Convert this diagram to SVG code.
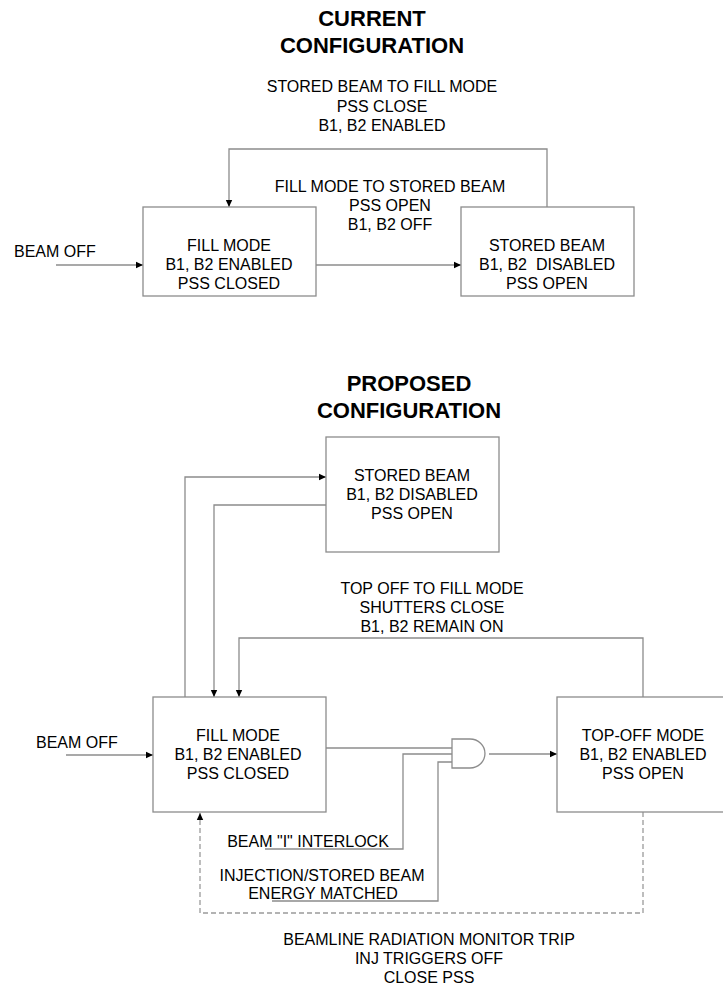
<svg xmlns="http://www.w3.org/2000/svg" width="723" height="985" viewBox="0 0 723 985">
<style>
  text { font-family: "Liberation Sans", Arial, sans-serif; fill: #000; }
  .t { font-size: 16px; text-anchor: middle; }
  .l { font-size: 16px; }
  .h { font-size: 22px; font-weight: bold; text-anchor: middle; }
  .box { fill: #fff; stroke: #8c8c8c; stroke-width: 1.3; }
  .w { fill: none; stroke: #8c8c8c; stroke-width: 1.3; }
  .d { fill: none; stroke: #9a9a9a; stroke-width: 1.3; stroke-dasharray: 5 3; }
</style>
<defs>
  <marker id="ah" markerWidth="8" markerHeight="8" refX="7" refY="4" orient="auto" markerUnits="userSpaceOnUse">
    <path d="M0,0.8 L7,4 L0,7.2 Z" fill="#000"/>
  </marker>
</defs>
<rect width="723" height="985" fill="#fff"/>

<g id="title-current">
  <text class="h" x="372" y="26">CURRENT</text>
  <text class="h" x="372" y="53">CONFIGURATION</text>
</g>

<g id="connectors">
  <!-- current -->
  <polyline class="w" points="547,207 547,149 229,149 229,207" marker-end="url(#ah)"/>
  <line class="w" x1="56" y1="265" x2="143" y2="265" marker-end="url(#ah)"/>
  <line class="w" x1="316" y1="265" x2="461" y2="265" marker-end="url(#ah)"/>
  <!-- proposed -->
  <polyline class="w" points="185,697 185,477 326,477" marker-end="url(#ah)"/>
  <polyline class="w" points="326,505 214,505 214,697" marker-end="url(#ah)"/>
  <polyline class="w" points="643,697 643,638 239,638 239,697" marker-end="url(#ah)"/>
  <line class="w" x1="66" y1="755" x2="153" y2="755" marker-end="url(#ah)"/>
  <line class="w" x1="326" y1="748" x2="452" y2="748"/>
  <polyline class="w" points="265,849 403,849 403,754 452,754"/>
  <polyline class="w" points="272,901 438,901 438,762 452,762"/>
  <line class="w" x1="489" y1="754" x2="557" y2="754" marker-end="url(#ah)"/>
  <polyline class="d" points="643,812 643,913 200,913 200,813" marker-end="url(#ah)"/>
</g>

<g id="and-gate">
  <path class="w" d="M452,739 L470,739 A15,14.5 0 0 1 470,768 L452,768 Z" fill="#fff"/>
</g>

<g id="label-sb-to-fill">
  <text class="t" x="382" y="92">STORED BEAM TO FILL MODE</text>
  <text class="t" x="382" y="112">PSS CLOSE</text>
  <text class="t" x="382" y="131">B1, B2 ENABLED</text>
</g>

<g id="label-fill-to-sb">
  <text class="t" x="390" y="192">FILL MODE TO STORED BEAM</text>
  <text class="t" x="390" y="211">PSS OPEN</text>
  <text class="t" x="390" y="230">B1, B2 OFF</text>
</g>

<g id="beam-off-current">
  <text class="l" x="14" y="257">BEAM OFF</text>
</g>

<g id="fill-mode-current">
  <rect class="box" x="143" y="207" width="173" height="89"/>
  <text class="t" x="229" y="251">FILL MODE</text>
  <text class="t" x="229" y="270">B1, B2 ENABLED</text>
  <text class="t" x="229" y="289">PSS CLOSED</text>
</g>

<g id="stored-beam-current">
  <rect class="box" x="461" y="207" width="173" height="89"/>
  <text class="t" x="547" y="251">STORED BEAM</text>
  <text class="t" x="547" y="270" xml:space="preserve">B1, B2  DISABLED</text>
  <text class="t" x="547" y="289">PSS OPEN</text>
</g>

<g id="title-proposed">
  <text class="h" x="409" y="391">PROPOSED</text>
  <text class="h" x="409" y="418">CONFIGURATION</text>
</g>

<g id="stored-beam-proposed">
  <rect class="box" x="326" y="437" width="173" height="115"/>
  <text class="t" x="412" y="481">STORED BEAM</text>
  <text class="t" x="412" y="500">B1, B2 DISABLED</text>
  <text class="t" x="412" y="519">PSS OPEN</text>
</g>

<g id="label-topoff-to-fill">
  <text class="t" x="432" y="594">TOP OFF TO FILL MODE</text>
  <text class="t" x="432" y="613">SHUTTERS CLOSE</text>
  <text class="t" x="432" y="632">B1, B2 REMAIN ON</text>
</g>

<g id="beam-off-proposed">
  <text class="l" x="36" y="748">BEAM OFF</text>
</g>

<g id="fill-mode-proposed">
  <rect class="box" x="153" y="697" width="173" height="115"/>
  <text class="t" x="238" y="741">FILL MODE</text>
  <text class="t" x="238" y="760">B1, B2 ENABLED</text>
  <text class="t" x="238" y="779">PSS CLOSED</text>
</g>

<g id="top-off-mode">
  <rect class="box" x="557" y="697" width="173" height="115"/>
  <text class="t" x="643" y="741">TOP-OFF MODE</text>
  <text class="t" x="643" y="760">B1, B2 ENABLED</text>
  <text class="t" x="643" y="779">PSS OPEN</text>
</g>

<g id="label-interlock">
  <text class="t" x="308" y="847">BEAM "I" INTERLOCK</text>
</g>

<g id="label-energy">
  <text class="t" x="322" y="881">INJECTION/STORED BEAM</text>
  <text class="t" x="323" y="899">ENERGY MATCHED</text>
</g>

<g id="label-radiation">
  <text class="t" x="429" y="945">BEAMLINE RADIATION MONITOR TRIP</text>
  <text class="t" x="429" y="964">INJ TRIGGERS OFF</text>
  <text class="t" x="429" y="983">CLOSE PSS</text>
</g>
</svg>
